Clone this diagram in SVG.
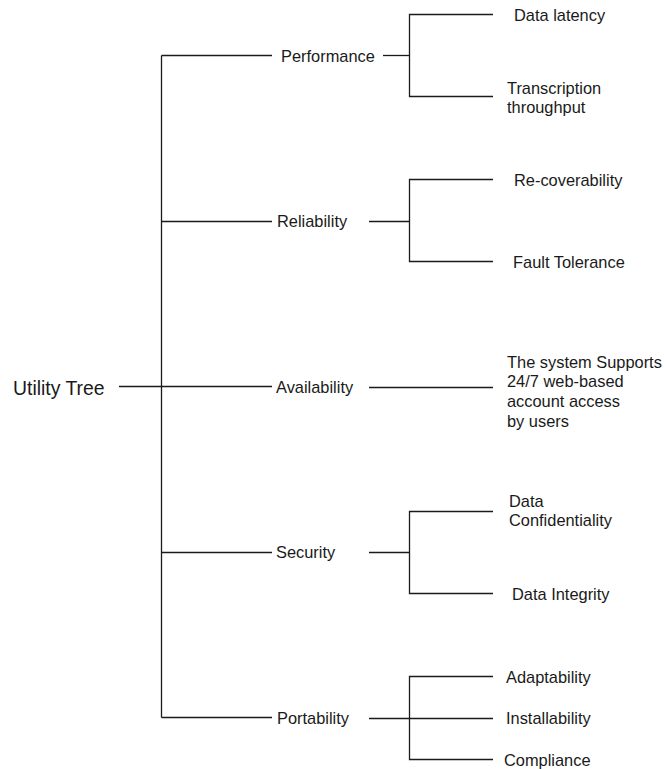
<svg xmlns="http://www.w3.org/2000/svg" width="666" height="769" viewBox="0 0 666 769">
  <style>
    .lbl { font-family: "Liberation Sans", Arial, sans-serif; font-size: 16.4px; fill: #1a1a1a; }
    .root { font-family: "Liberation Sans", Arial, sans-serif; font-size: 19.4px; fill: #1a1a1a; }
    .edge { stroke: #1a1a1a; stroke-width: 1.3; fill: none; }
  </style>
  <rect width="666" height="769" fill="#ffffff"/>

  <!-- connectors -->
  <g id="connectors" class="edge">
    <!-- root to trunk -->
    <path d="M119 386.5 H272"/>
    <!-- trunk -->
    <path d="M161.5 55.5 V717.5"/>
    <!-- quality attributes -->
    <path d="M161.5 55.5 H272"/>
    <path d="M161.5 221.5 H272"/>
    <path d="M161.5 552.5 H272"/>
    <path d="M161.5 717.5 H272"/>
    <!-- Performance refinements -->
    <path d="M383 55.5 H409.5"/>
    <path d="M493 14.5 H409.5 V96.5 H493"/>
    <!-- Reliability refinements -->
    <path d="M369 221.5 H409.5"/>
    <path d="M493 179.5 H409.5 V261.5 H493"/>
    <!-- Availability scenario -->
    <path d="M369 387.5 H493"/>
    <!-- Security refinements -->
    <path d="M369 552.5 H409.5"/>
    <path d="M493 511.5 H409.5 V593.5 H493"/>
    <!-- Portability refinements -->
    <path d="M369 718.5 H493"/>
    <path d="M493 676.5 H409.5 V759.5 H493"/>
  </g>

  <g id="utility-tree"><text class="root" x="13" y="395">Utility Tree</text></g>

  <g id="performance"><text class="lbl" x="281" y="62">Performance</text></g>
  <g id="data-latency"><text class="lbl" x="514" y="21">Data latency</text></g>
  <g id="transcription-throughput">
    <text class="lbl" x="507" y="94">Transcription</text>
    <text class="lbl" x="507" y="113">throughput</text>
  </g>

  <g id="reliability"><text class="lbl" x="277" y="227">Reliability</text></g>
  <g id="recoverability"><text class="lbl" x="514" y="186">Re-coverability</text></g>
  <g id="fault-tolerance"><text class="lbl" x="513" y="268">Fault Tolerance</text></g>

  <g id="availability"><text class="lbl" x="276" y="393">Availability</text></g>
  <g id="web-access">
    <text class="lbl" x="507" y="368">The system Supports</text>
    <text class="lbl" x="507" y="387">24/7 web-based</text>
    <text class="lbl" x="507" y="407">account access</text>
    <text class="lbl" x="507" y="427">by users</text>
  </g>

  <g id="security"><text class="lbl" x="276" y="558">Security</text></g>
  <g id="data-confidentiality">
    <text class="lbl" x="509" y="507">Data</text>
    <text class="lbl" x="509" y="526">Confidentiality</text>
  </g>
  <g id="data-integrity"><text class="lbl" x="512" y="600">Data Integrity</text></g>

  <g id="portability"><text class="lbl" x="277" y="724">Portability</text></g>
  <g id="adaptability"><text class="lbl" x="506" y="683">Adaptability</text></g>
  <g id="installability"><text class="lbl" x="506" y="724">Installability</text></g>
  <g id="compliance"><text class="lbl" x="504" y="766">Compliance</text></g>
</svg>
